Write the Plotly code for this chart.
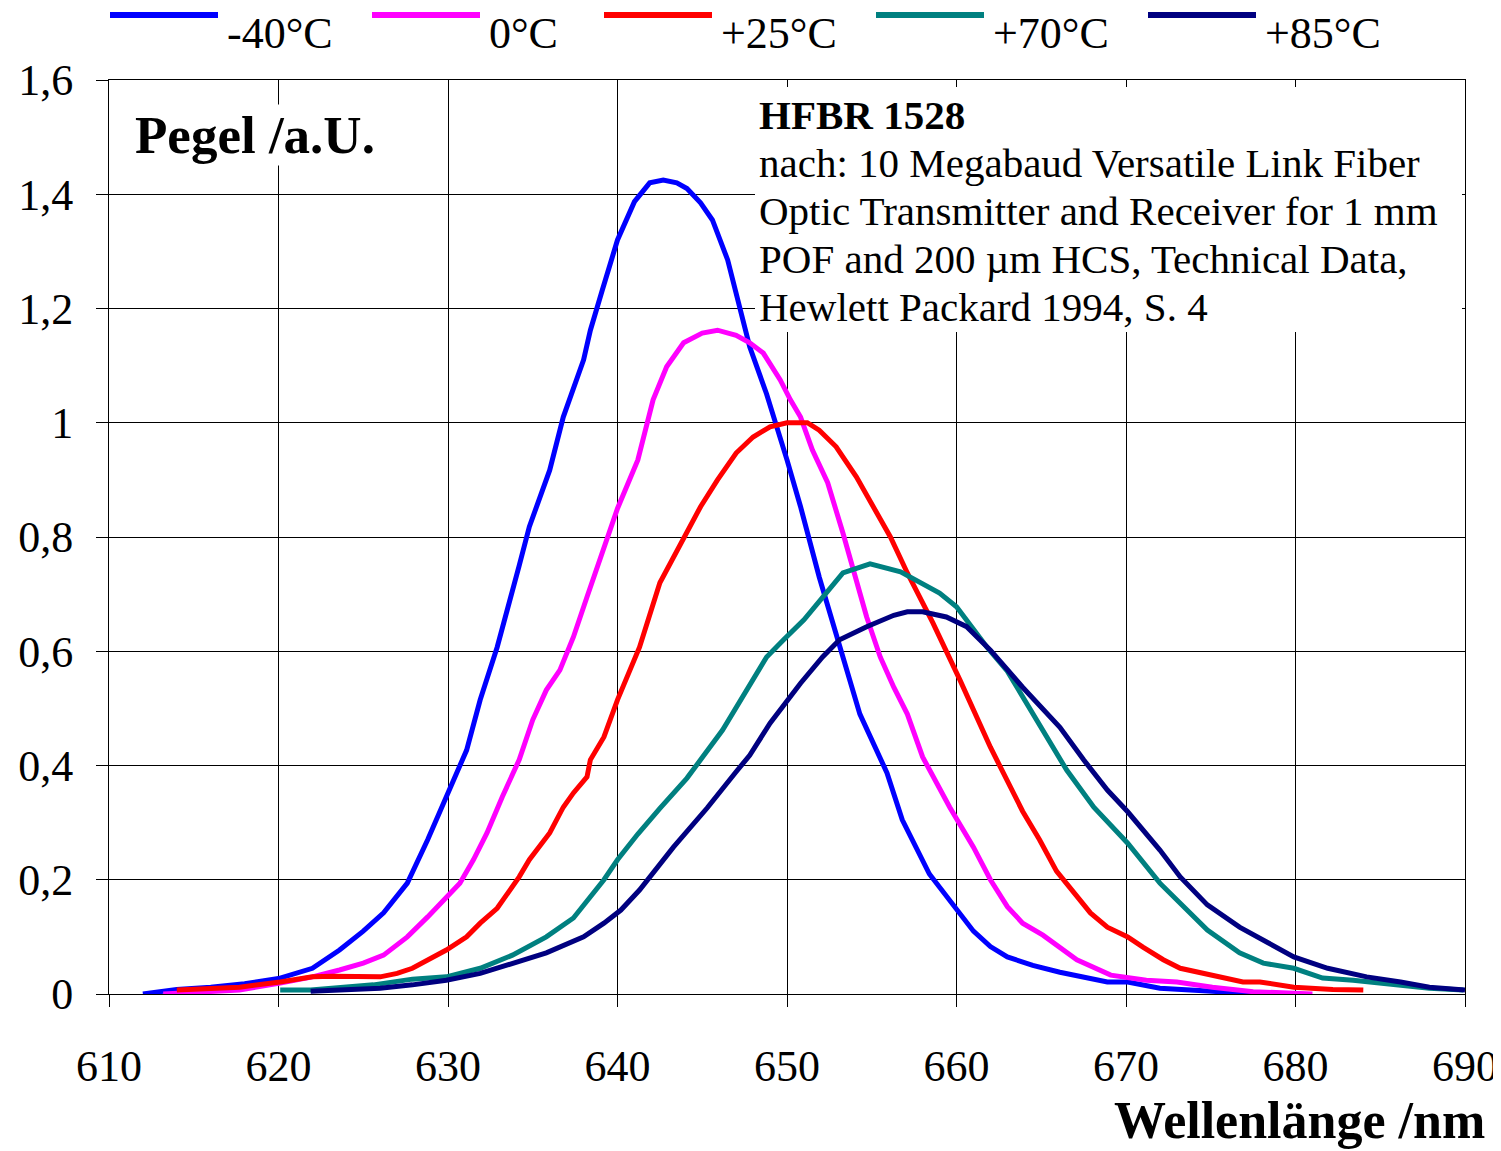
import plotly.graph_objects as go

# wavelength (nm) and level (a.U.)
x_m40 = [612, 614, 616, 618, 620, 622, 623.6, 625, 626.2, 627.6, 628.8, 629.9, 631.1, 631.9, 632.9,
         634.2, 634.8, 636.0, 636.8, 638.0, 638.4, 639.1, 639.7, 640.0, 641.0, 641.9, 642.7, 643.5,
         644.1, 644.9, 645.6, 646.5, 647.8, 648.8, 650.0, 650.8, 651.9, 653.1, 654.3, 655.9, 656.8,
         658.4, 660.0, 661.0, 662.0, 663.0, 664.5, 666.1, 668.9, 670.1, 672.0, 675.0, 677.9]
y_m40 = [0.0, 0.008, 0.012, 0.018, 0.027, 0.045, 0.077, 0.11, 0.142, 0.194, 0.27, 0.345, 0.427, 0.515,
         0.607, 0.75, 0.818, 0.917, 1.01, 1.11, 1.162, 1.232, 1.29, 1.32, 1.387, 1.42, 1.425, 1.42,
         1.41, 1.385, 1.355, 1.285, 1.133, 1.05, 0.935, 0.853, 0.73, 0.607, 0.49, 0.387, 0.305,
         0.21, 0.147, 0.11, 0.083, 0.065, 0.05, 0.038, 0.021, 0.021, 0.01, 0.005, 0.0]

x_0 = [613.2, 615, 617.7, 620.1, 622.0, 623.6, 625.0, 626.2, 627.6, 628.8, 629.9, 630.7, 631.5, 632.3,
       633.2, 634.2, 635.0, 635.8, 636.6, 637.4, 638.2, 639.0, 640.0, 641.2, 642.1, 642.9, 643.9,
       645.0, 645.9, 647.0, 647.8, 648.6, 649.6, 650.2, 650.8, 651.5, 652.4, 653.3, 654.0, 654.7,
       655.5, 656.3, 657.1, 658.0, 659.6, 661.0, 662.0, 663.0, 663.9, 665.1, 667.1, 669.1, 671.2,
       673.0, 675.1, 677.5, 681.0]
y_0 = [0.0, 0.003, 0.007, 0.019, 0.03, 0.042, 0.054, 0.068, 0.1, 0.135, 0.17, 0.194, 0.235, 0.282,
       0.345, 0.41, 0.48, 0.532, 0.567, 0.625, 0.695, 0.763, 0.85, 0.935, 1.04, 1.098, 1.14,
       1.157, 1.162, 1.153, 1.14, 1.122, 1.075, 1.04, 1.01, 0.952, 0.895, 0.807, 0.73, 0.66,
       0.59, 0.537, 0.49, 0.415, 0.327, 0.257, 0.2, 0.153, 0.124, 0.103, 0.06, 0.033, 0.024,
       0.021, 0.012, 0.004, 0.0]

x_25 = [614.0, 616, 617.7, 620.1, 622.0, 623.2, 626.0, 627.0, 627.9, 629.9, 631.1, 631.9, 632.9, 634.2,
        634.8, 636.0, 636.8, 637.4, 638.2, 638.4, 639.2, 640.0, 641.3, 642.5, 643.9, 644.9, 645.9,
        647.0, 648.0, 649.0, 650.0, 651.2, 651.9, 652.9, 654.1, 655.3, 656.1, 657.1, 658.6, 660.2,
        662.0, 663.9, 664.9, 665.9, 666.9, 667.9, 668.9, 670.1, 671.0, 672.2, 673.2, 675.1, 676.9,
        677.9, 679.9, 682.2, 684.0]
y_25 = [0.007, 0.009, 0.012, 0.021, 0.03, 0.031, 0.03, 0.036, 0.045, 0.077, 0.1, 0.124, 0.15, 0.205,
        0.235, 0.282, 0.327, 0.352, 0.38, 0.41, 0.45, 0.515, 0.607, 0.72, 0.795, 0.853, 0.9,
        0.947, 0.975, 0.993, 1.0, 1.0, 0.987, 0.958, 0.905, 0.842, 0.8, 0.737, 0.65, 0.55,
        0.432, 0.32, 0.27, 0.215, 0.177, 0.142, 0.117, 0.1, 0.082, 0.06, 0.045, 0.033, 0.021,
        0.021, 0.012, 0.008, 0.007]

x_70 = [620.1, 621.9, 625.6, 627.9, 629.9, 631.9, 633.8, 635.8, 637.4, 638.4, 639.2, 640.0, 641.2, 642.5,
        644.1, 646.2, 648.8, 649.8, 651.0, 653.3, 654.9, 656.7, 659.0, 660.0, 661.8, 663.0, 664.9,
        666.5, 668.1, 670.1, 672.0, 674.8, 676.7, 678.1, 679.9, 681.6, 683.4, 686.2, 687.9, 689.9]
y_70 = [0.007, 0.007, 0.016, 0.026, 0.03, 0.045, 0.068, 0.1, 0.133, 0.17, 0.2, 0.235, 0.28, 0.325,
        0.378, 0.462, 0.59, 0.62, 0.655, 0.737, 0.753, 0.739, 0.702, 0.678, 0.607, 0.565, 0.47,
        0.392, 0.327, 0.264, 0.194, 0.112, 0.072, 0.054, 0.045, 0.028, 0.024, 0.016, 0.01, 0.007]

x_85 = [621.9, 623.6, 626.0, 627.9, 629.9, 631.9, 633.8, 635.8, 638.0, 639.2, 640.2, 641.3, 643.3, 645.3,
        647.0, 647.8, 649.0, 650.8, 652.1, 653.1, 654.7, 656.3, 657.1, 658.0, 659.4, 660.6, 662.0,
        663.9, 666.1, 667.5, 668.9, 670.1, 672.0, 673.2, 674.8, 676.7, 678.3, 679.9, 681.9, 684.2,
        686.2, 687.9, 690.0]
y_85 = [0.005, 0.007, 0.01, 0.016, 0.024, 0.036, 0.054, 0.072, 0.1, 0.124, 0.147, 0.182, 0.257, 0.326,
        0.389, 0.418, 0.474, 0.544, 0.59, 0.62, 0.643, 0.663, 0.669, 0.669, 0.66, 0.643, 0.602,
        0.537, 0.467, 0.41, 0.357, 0.319, 0.252, 0.205, 0.156, 0.117, 0.091, 0.065, 0.045, 0.03,
        0.021, 0.012, 0.007]

names = ["-40°C", "0°C", "+25°C", "+70°C", "+85°C"]
colors = ["#0000ff", "#ff00ff", "#ff0000", "#008080", "#000080"]

y_tickvals = [0, 0.2, 0.4, 0.6, 0.8, 1.0, 1.2, 1.4, 1.6]
y_ticktext = ["0", "0,2", "0,4", "0,6", "0,8", "1", "1,2", "1,4", "1,6"]

info_lines = ["<b>HFBR 1528</b>",
              "nach: 10 Megabaud Versatile Link Fiber",
              "Optic Transmitter and Receiver for 1 mm",
              "POF and 200 µm HCS, Technical Data,",
              "Hewlett Packard 1994, S. 4"]

series = [(x_m40, y_m40), (x_0, y_0), (x_25, y_25), (x_70, y_70), (x_85, y_85)]

FONT = "Liberation Serif, Times New Roman, serif"

fig = go.Figure()
for (xs, ys), name, col in zip(series, names, colors):
    fig.add_trace(go.Scatter(x=xs, y=ys, name=name, mode="lines",
                             line=dict(color=col, width=5), showlegend=False))

# page pixel -> paper helpers (plot area spans x 109..1465, y 80..994 on the page)
W = 1356.0
H = 914.0
def px(x):
    return (x - 109) / W
def py(y):
    return (994 - y) / H

# hand made legend above the plot (long line samples like the original)
leg_left = [110, 372, 604, 876, 1148]
shapes = []
annotations = []
for i, (name, col) in enumerate(zip(names, colors)):
    shapes.append(dict(type="line", xref="paper", yref="paper",
                       x0=px(leg_left[i]), x1=px(leg_left[i] + 108),
                       y0=py(15), y1=py(15), line=dict(color=col, width=6)))
    annotations.append(dict(text=name, xref="paper", yref="paper",
                            x=px(leg_left[i] + 115), y=py(33),
                            xanchor="left", yanchor="middle", showarrow=False,
                            font=dict(family=FONT, size=44, color="black")))

# white box behind the source note (covers the grid there; no curve runs under it)
shapes.append(dict(type="rect", xref="paper", yref="paper", layer="above",
                   x0=px(755), x1=px(1462), y0=py(332), y1=py(87),
                   fillcolor="white", line=dict(width=0)))
for i, line in enumerate(info_lines):
    annotations.append(dict(text=line, xref="paper", yref="paper",
                            x=px(757), y=py(115 + 48 * i), xanchor="left", yanchor="middle",
                            showarrow=False, font=dict(family=FONT, size=41, color="black")))

annotations.append(dict(text="<b>Pegel /a.U.</b>", xref="paper", yref="paper",
                        x=px(133), y=py(135), xanchor="left", yanchor="middle",
                        showarrow=False, bgcolor="white",
                        font=dict(family=FONT, size=53, color="black")))
annotations.append(dict(text="<b>Wellenlänge /nm</b>", xref="paper", yref="paper",
                        x=px(1487), y=py(1120), xanchor="right", yanchor="middle",
                        showarrow=False, font=dict(family=FONT, size=52, color="black")))

# the page adds an 8px body margin, so the figure is made smaller and the margins shifted
fig.update_layout(
    width=1493, height=1143,
    margin=dict(l=101, r=36, t=72, b=157),
    plot_bgcolor="white", paper_bgcolor="white",
    font=dict(family=FONT, color="black"),
    shapes=shapes, annotations=annotations,
)
fig.update_xaxes(range=[610, 690], dtick=10, tick0=610, showgrid=True, gridcolor="black", gridwidth=1,
                 showline=True, linecolor="black", linewidth=1, mirror=True,
                 ticks="outside", ticklen=12, tickcolor="black", zeroline=False,
                 ticklabelstandoff=21, automargin=False,
                 tickfont=dict(family=FONT, size=44, color="black"))
fig.update_yaxes(range=[0, 1.6], tickvals=y_tickvals, ticktext=y_ticktext, showgrid=True,
                 gridcolor="black", gridwidth=1, showline=True, linecolor="black", linewidth=1,
                 mirror=True, ticks="outside", ticklen=12, tickcolor="black", zeroline=False,
                 ticklabelstandoff=14, automargin=False,
                 tickfont=dict(family=FONT, size=44, color="black"))

fig.write_html("out.html")
